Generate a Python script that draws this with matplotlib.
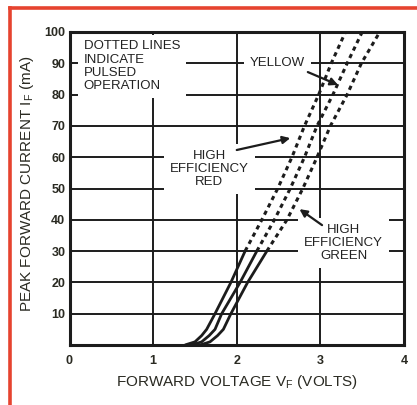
import matplotlib
matplotlib.use("Agg")
import matplotlib.pyplot as plt
from matplotlib.lines import Line2D

plt.rcParams['font.family'] = ['Liberation Sans', 'DejaVu Sans']

# ---- data ----
current_dc = [0, 1, 3, 5, 10, 20, 30]            # mA, solid portion
red_dc_v = [1.38, 1.50, 1.58, 1.64, 1.74, 1.93, 2.10]
yellow_dc_v = [1.46, 1.58, 1.67, 1.74, 1.82, 2.04, 2.24]
green_dc_v = [1.56, 1.68, 1.77, 1.84, 1.93, 2.13, 2.36]

current_pulsed = [30, 40, 50, 60, 70, 80, 90, 100]  # mA, dotted portion
red_pulsed_v = [2.10, 2.30, 2.49, 2.66, 2.81, 2.98, 3.13, 3.30]
yellow_pulsed_v = [2.24, 2.45, 2.64, 2.81, 2.96, 3.15, 3.32, 3.50]
green_pulsed_v = [2.36, 2.60, 2.79, 2.96, 3.12, 3.32, 3.49, 3.71]

x_ticks = [0, 1, 2, 3, 4]
y_ticks = [10, 20, 30, 40, 50, 60, 70, 80, 90, 100]

INK = '#1c1c1c'

fig = plt.figure(figsize=(4.17, 4.05), dpi=100)
fig.patch.set_facecolor('white')
ax = fig.add_axes([69.5 / 417, 60 / 405, 334.5 / 417, 313 / 405])

ax.set_xlim(0, 4)
ax.set_ylim(0, 100)
ax.set_xticks(x_ticks)
ax.set_yticks(y_ticks)
ax.tick_params(length=0, labelsize=9, labelcolor='#2a2a22')
ax.tick_params(axis='x', pad=7)
ax.tick_params(axis='y', pad=3)
for lab in ax.get_xticklabels() + ax.get_yticklabels():
    lab.set_fontweight('bold')

ax.grid(True, color=INK, lw=1.4, zorder=1)
ax.set_axisbelow(True)
for s in ax.spines.values():
    s.set_linewidth(2.2)
    s.set_color(INK)

for v_dc, v_p in [(red_dc_v, red_pulsed_v), (yellow_dc_v, yellow_pulsed_v),
                  (green_dc_v, green_pulsed_v)]:
    ax.plot(v_dc, current_dc, color=INK, lw=2.0, solid_capstyle='butt', zorder=3)
    ax.plot(v_p, current_pulsed, color=INK, lw=2.2, linestyle=(0, (1.4, 1.3)),
            dash_capstyle='butt', zorder=3)

box = dict(boxstyle='square,pad=0.45', facecolor='white', edgecolor='none')
tkw = dict(fontsize=9.5, color='#222222', zorder=5, bbox=box, linespacing=1.12)

ax.text(0.17, 97.3, 'DOTTED LINES\nINDICATE\nPULSED\nOPERATION', ha='left', va='top', **tkw)
ax.text(2.49, 90.1, 'YELLOW', ha='center', va='center', **tkw)
ax.text(1.67, 56.2, 'HIGH\nEFFICIENCY\nRED', ha='center', va='center', multialignment='center', **tkw)
ax.text(3.28, 32.6, 'HIGH\nEFFICIENCY\nGREEN', ha='center', va='center', multialignment='center', **tkw)

arw = dict(arrowstyle='-|>', lw=1.6, color=INK, mutation_scale=11, shrinkA=0, shrinkB=0)
ax.annotate('', xy=(3.21, 83.1), xytext=(2.85, 87.2), arrowprops=arw, zorder=6)
ax.annotate('', xy=(2.64, 66.1), xytext=(2.00, 62.3), arrowprops=arw, zorder=6)
ax.annotate('', xy=(2.75, 43.4), xytext=(3.02, 38.3), arrowprops=arw, zorder=6)

ax.set_xlabel('FORWARD VOLTAGE V$_\\mathregular{F}$ (VOLTS)', fontsize=11, color='#2a2a22')
ax.set_ylabel('PEAK FORWARD CURRENT I$_\\mathregular{F}$ (mA)', fontsize=11, color='#2a2a22')
ax.xaxis.set_label_coords(0.5, -0.088)
ax.yaxis.set_label_coords(-0.10, 0.514)

# red frame of the scanned page
red = '#e6432f'
fig.add_artist(Line2D([10 / 417, 10 / 417], [0, 397 / 405], transform=fig.transFigure,
                      color=red, lw=2.6))
fig.add_artist(Line2D([10 / 417, 1.0], [397 / 405, 397 / 405], transform=fig.transFigure,
                      color=red, lw=2.6))

fig.savefig('out.png', dpi=100, facecolor='white')
